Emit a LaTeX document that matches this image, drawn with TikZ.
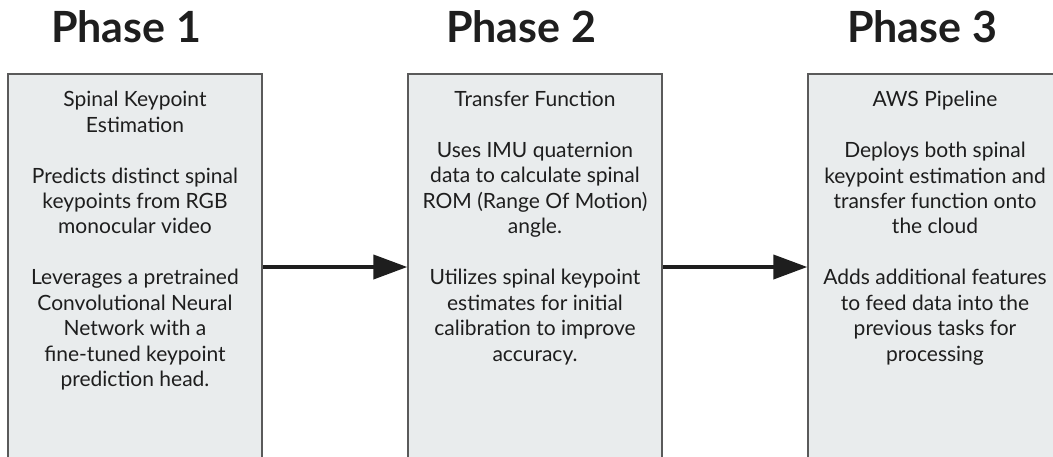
\documentclass[tikz,border=0pt]{standalone}
\usepackage{fontspec}
\setmainfont{Lato}
\usetikzlibrary{arrows.meta}
\definecolor{boxfill}{RGB}{233,236,237}
\definecolor{boxline}{RGB}{90,90,90}
\definecolor{ink}{RGB}{30,30,30}
\begin{document}
\begin{tikzpicture}[x=1pt,y=-1pt,
  phasebox/.style={draw=boxline,fill=boxfill,line width=1.4pt,minimum width=254pt,minimum height=386pt,inner sep=0pt},
  boxtext/.style={anchor=north,inner sep=0pt,align=center,text=ink,font=\fontsize{21pt}{25.45pt}\selectfont},
  phasetitle/.style={anchor=base,inner sep=0pt,text=ink,font=\fontsize{43pt}{45pt}\selectfont\bfseries},
  flow/.style={line width=4pt,draw=ink,-{Triangle[length=34pt,width=24pt]}}]
\useasboundingbox (0,0) rectangle (1053,456);
\clip (0,0) rectangle (1053,456);
\fill[white] (0,0) rectangle (1053,456);
\node[phasetitle] (t1) at (126,42) {Phase 1};
\node[phasetitle] (t2) at (521,42) {Phase 2};
\node[phasetitle] (t3) at (922,42) {Phase 3};
\node[phasebox] (p1) at (135,267) {};
\node[phasebox] (p2) at (535,267) {};
\node[phasebox] (p3) at (935,267) {};
\node[boxtext] (x1) at (135,91) {Spinal Keypoint\\Estimation\\[25.45pt]Predicts distinct spinal\\keypoints from RGB\\monocular video\\[25.45pt]Leverages a pretrained\\Convolutional Neural\\Network with a\\fine-tuned keypoint\\prediction head.};
\node[boxtext] (x2) at (535,91) {Transfer Function\\[25.45pt]Uses IMU quaternion\\data to calculate spinal\\ROM (Range Of Motion)\\angle.\\[25.45pt]Utilizes spinal keypoint\\estimates for initial\\calibration to improve\\accuracy.};
\node[boxtext] (x3) at (935,91) {AWS Pipeline\\[25.45pt]Deploys both spinal\\keypoint estimation and\\transfer function onto\\the cloud\\[25.45pt]Adds additional features\\to feed data into the\\previous tasks for\\processing};
\draw[flow] (p1.east) -- (p2.west);
\draw[flow] (p2.east) -- (p3.west);
\end{tikzpicture}
\end{document}
